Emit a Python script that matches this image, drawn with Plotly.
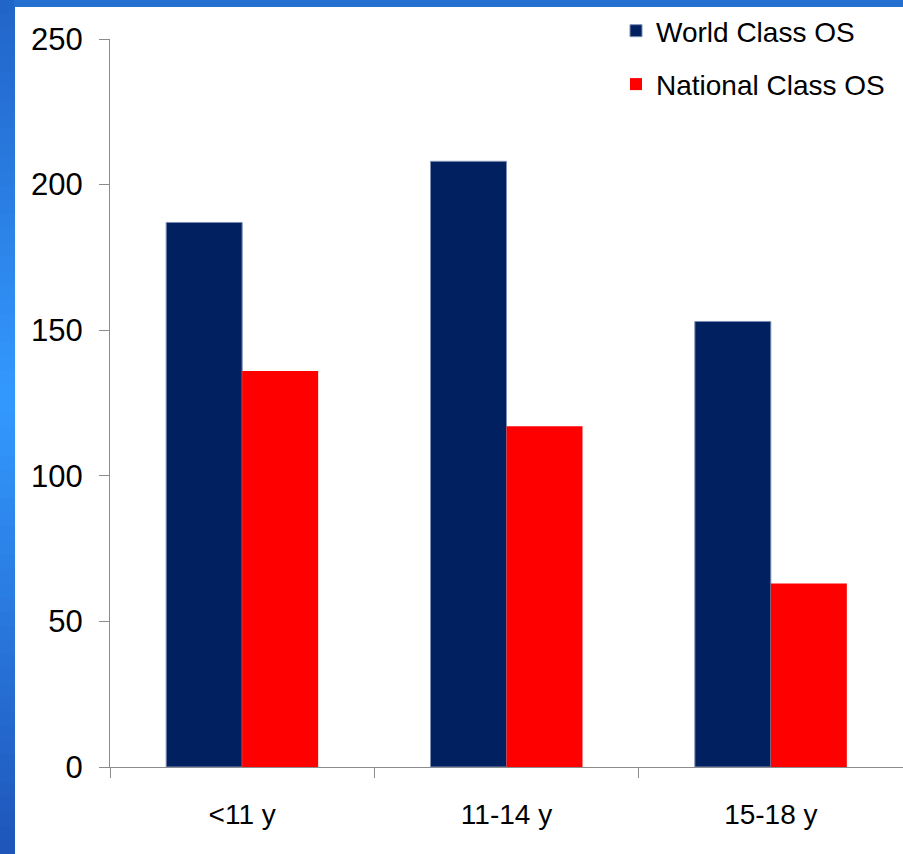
import plotly.graph_objects as go

# Age groups and counts per class
categories = ["<11 y", "11-14 y", "15-18 y"]
world_class = [187, 208, 153]
national_class = [136, 117, 63]
y_ticks = [0, 50, 100, 150, 200, 250]

W, H = 903, 854
L, R, T, B = 110, 0, 39, 87
PW, PH = W - L - R, H - T - B
font = "Liberation Sans, Arial, sans-serif"


def px_x(x):
    return (x - L) / PW


def px_y(y):
    return (H - B - y) / PH


fig = go.Figure()
fig.add_trace(go.Bar(
    name="World Class OS", x=categories, y=world_class, legendgroup="w",
    marker=dict(color="#002060", line=dict(color="#7f8fb5", width=1)),
))
fig.add_trace(go.Bar(
    name="National Class OS", x=categories, y=national_class, legendgroup="n",
    marker=dict(color="#ff0000", line=dict(width=0)),
))

# Blue slide backdrop: left strip shaded lighter toward the middle
shapes = []
top_c, mid_c, bot_c = (34, 100, 200), (51, 153, 255), (30, 85, 185)
steps = 60
for i in range(steps):
    t = (i + 0.5) / steps
    if t < 0.47:
        f = t / 0.47
        c = [round(a + (b - a) * f) for a, b in zip(top_c, mid_c)]
    else:
        f = (t - 0.47) / 0.53
        c = [round(a + (b - a) * f) for a, b in zip(mid_c, bot_c)]
    y0 = H * i / steps
    y1 = H * (i + 1) / steps + 1
    shapes.append(dict(type="rect", xref="paper", yref="paper", layer="below",
                       x0=px_x(0), x1=px_x(15), y0=px_y(y1), y1=px_y(y0),
                       fillcolor="rgb(%d,%d,%d)" % tuple(c), line=dict(width=0)))
# top band
shapes.append(dict(type="rect", xref="paper", yref="paper", layer="below",
                   x0=px_x(14), x1=px_x(W + 5), y0=px_y(7), y1=px_y(-5),
                   fillcolor="#2470d0", line=dict(width=0)))
# white slide panel behind the chart
shapes.append(dict(type="rect", xref="paper", yref="paper", layer="below",
                   x0=px_x(15), x1=px_x(W + 5), y0=px_y(H + 5), y1=px_y(7),
                   fillcolor="white", line=dict(width=0)))

fig.update_layout(
    width=W, height=H,
    margin=dict(l=L, r=R, t=T, b=B, autoexpand=False),
    paper_bgcolor="#2470d0",
    plot_bgcolor="white",
    shapes=shapes,
    barmode="group", bargap=0.425, bargroupgap=0,
    font=dict(family=font, color="black"),
    showlegend=True,
    legend=dict(x=px_x(616), y=px_y(6), xanchor="left", yanchor="top",
                bgcolor="rgba(0,0,0,0)", font=dict(size=28, family=font),
                traceorder="grouped", tracegroupgap=14, itemwidth=30),
    xaxis=dict(showline=True, linecolor="#8c8c8c", linewidth=1,
               ticks="outside", ticklen=10, tickcolor="#8c8c8c",
               tickson="boundaries", tickfont=dict(size=28),
               ticklabelstandoff=22,
               showgrid=False, zeroline=False),
    yaxis=dict(range=[0, 250], tickvals=y_ticks, showline=True,
               linecolor="#8c8c8c", linewidth=1, ticks="outside",
               ticklen=10, tickcolor="#8c8c8c", tickfont=dict(size=31),
               ticklabelstandoff=10,
               showgrid=False, zeroline=False),
)

fig.write_html("out.html")
